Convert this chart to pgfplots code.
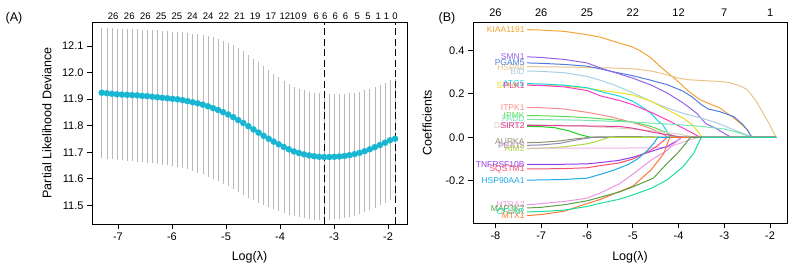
\documentclass[border=0pt]{standalone}
\usepackage{pgfplots}
\pgfplotsset{compat=1.18}
\usepackage{pgfplotstable}
\usepackage{fontspec}
\setmainfont{Liberation Sans}
\definecolor{dotc}{RGB}{24,182,210}
\definecolor{ebar}{RGB}{185,185,185}
\definecolor{cKIAA}{RGB}{242,165,50}
\definecolor{cSMN}{RGB}{150,100,230}
\definecolor{cPGAM}{RGB}{80,125,220}
\definecolor{cHSPA}{RGB}{233,196,138}
\definecolor{cBID}{RGB}{166,207,229}
\definecolor{cSPHK}{RGB}{235,220,40}
\definecolor{cATG}{RGB}{20,215,225}
\definecolor{cPLK}{RGB}{250,60,200}
\definecolor{cITPK}{RGB}{248,140,140}
\definecolor{cIPMK}{RGB}{90,220,90}
\definecolor{cFADD}{RGB}{120,230,180}
\definecolor{cDIRAS}{RGB}{215,210,190}
\definecolor{cSIRT}{RGB}{230,60,160}
\definecolor{cGRN}{RGB}{30,210,30}
\definecolor{cAURKA}{RGB}{150,145,110}
\definecolor{cPEA}{RGB}{140,140,170}
\definecolor{cLIME}{RGB}{170,220,60}
\definecolor{cLPINK}{RGB}{240,180,230}
\definecolor{cTNF}{RGB}{150,60,240}
\definecolor{cSQS}{RGB}{250,80,110}
\definecolor{cHSP}{RGB}{30,170,230}
\definecolor{cHTRA}{RGB}{235,150,225}
\definecolor{cMAP}{RGB}{90,160,70}
\definecolor{cCFLAR}{RGB}{30,220,160}
\definecolor{cMTX}{RGB}{255,120,50}

\pgfplotstableread{
x y e
-7.300 11.924 0.237
-7.206 11.922 0.238
-7.113 11.920 0.238
-7.019 11.918 0.239
-6.926 11.917 0.239
-6.832 11.916 0.240
-6.738 11.915 0.240
-6.645 11.914 0.241
-6.551 11.912 0.241
-6.458 11.911 0.242
-6.364 11.909 0.242
-6.270 11.907 0.243
-6.177 11.905 0.243
-6.083 11.903 0.244
-5.990 11.901 0.245
-5.896 11.899 0.246
-5.802 11.896 0.247
-5.709 11.892 0.248
-5.615 11.888 0.250
-5.522 11.884 0.252
-5.428 11.879 0.254
-5.334 11.873 0.256
-5.241 11.866 0.258
-5.147 11.859 0.260
-5.054 11.851 0.261
-4.960 11.842 0.262
-4.866 11.832 0.262
-4.773 11.821 0.262
-4.679 11.810 0.261
-4.586 11.798 0.260
-4.492 11.786 0.258
-4.398 11.774 0.256
-4.305 11.762 0.253
-4.211 11.751 0.250
-4.118 11.740 0.247
-4.024 11.730 0.244
-3.930 11.720 0.241
-3.837 11.711 0.238
-3.743 11.703 0.236
-3.650 11.697 0.234
-3.556 11.692 0.233
-3.462 11.688 0.232
-3.369 11.685 0.231
-3.275 11.683 0.230
-3.182 11.682 0.229
-3.088 11.682 0.228
-2.994 11.683 0.227
-2.901 11.684 0.226
-2.807 11.686 0.225
-2.714 11.689 0.224
-2.620 11.693 0.223
-2.526 11.698 0.222
-2.433 11.704 0.221
-2.339 11.711 0.220
-2.246 11.719 0.219
-2.152 11.727 0.218
-2.058 11.736 0.217
-1.965 11.745 0.217
-1.871 11.751 0.216
}\cvdata

\begin{document}
\begin{tikzpicture}
\useasboundingbox (0,0) rectangle (792pt,269pt);
\pgfplotsset{
  base/.style={scale only axis, axis line style={line width=0.9pt}, tick style={line width=0.8pt, black},
    tick align=outside, major tick length=5pt, xtick pos=bottom, ytick pos=left,
    ticklabel style={font=\fontsize{11}{12}\selectfont},
    label style={font=\fontsize{12.5}{14}\selectfont}},
  topax/.style={scale only axis, hide y axis, axis x line*=top, axis line style={draw=none},
    major tick length=0pt, ymin=0, ymax=1}
}
\node[font=\fontsize{12.5}{14}\selectfont] at (14pt,251pt) {(A)};
\node[font=\fontsize{12.5}{14}\selectfont] at (447pt,251pt) {(B)};

% ---------------- Panel A
\begin{axis}[base, at={(92pt,45pt)}, anchor=south west, width=315pt, height=202pt,
  xmin=-7.48, xmax=-1.65, ymin=11.43, ymax=12.19,
  xtick={-7,-6,-5,-4,-3,-2}, xticklabels={-7,-6,-5,-4,-3,-2},
  ytick={11.5,11.6,11.7,11.8,11.9,12.0,12.1}, yticklabels={11.5,11.6,11.7,11.8,11.9,12.0,12.1},
  xlabel={Log(λ)}, ylabel={Partial Likelihood Deviance},
  x label style={at={(axis description cs:0.5,-0.165)}, anchor=center},
  y label style={at={(axis description cs:-0.143,0.5)}, anchor=center}]
\addplot[only marks, mark=none, error bars/.cd, y dir=both, y explicit,
  error bar style={color=ebar, line width=0.6pt},
  error mark options={color=ebar, mark size=2.2pt, line width=0.6pt}]
  table[x=x, y=y, y error=e] {\cvdata};
\addplot[only marks, mark=*, mark size=3pt, color=dotc] table[x=x, y=y] {\cvdata};
\addplot[black, line width=1pt, dash pattern=on 7pt off 3.5pt] coordinates {(-3.182,11.43) (-3.182,12.19)};
\addplot[black, line width=1pt, dash pattern=on 7pt off 3.5pt] coordinates {(-1.871,11.43) (-1.871,12.19)};
\end{axis}
\begin{axis}[topax, at={(92pt,45pt)}, anchor=south west, width=315pt, height=202pt,
  xmin=-7.48, xmax=-1.65,
  xtick={-7.09,-6.79,-6.49,-6.20,-5.91,-5.62,-5.33,-5.04,-4.75,-4.46,-4.17,-3.91,-3.72,-3.55,-3.33,-3.17,-2.98,-2.79,-2.57,-2.37,-2.18,-2.03,-1.87},
  xticklabels={26,26,26,25,25,24,24,22,21,19,17,12,10,9,6,6,6,6,5,5,1,1,0},
  xticklabel style={font=\fontsize{9.5}{10}\selectfont, yshift=-1pt}]
\addplot[draw=none] coordinates {(-5,0.5)};
\end{axis}

% ---------------- Panel B
\begin{axis}[base, at={(473pt,46pt)}, anchor=south west, width=314pt, height=201pt,
  xmin=-8.49, xmax=-1.63, ymin=-0.394, ymax=0.530,
  xtick={-8,-7,-6,-5,-4,-3,-2}, xticklabels={-8,-7,-6,-5,-4,-3,-2},
  ytick={-0.2,0,0.2,0.4}, yticklabels={-0.2,0.0,0.2,0.4},
  xlabel={Log(λ)}, ylabel={Coefficients},
  x label style={at={(axis description cs:0.5,-0.17)}, anchor=center},
  y label style={at={(axis description cs:-0.146,0.5)}, anchor=center},
  every axis plot/.append style={line width=1pt}]
\addplot[cKIAA] coordinates {(-7.31,0.495) (-7,0.493) (-6.5,0.487) (-6,0.472) (-5.7,0.46) (-5.4,0.44) (-5.0,0.415) (-4.8,0.393) (-4.6,0.365) (-4.4,0.325) (-4.2,0.29) (-4.0,0.255) (-3.8,0.215) (-3.55,0.175) (-3.3,0.152) (-3.1,0.135) (-2.8,0.09) (-2.6,0.055) (-2.5,0.035) (-2.4,0) (-1.87,0)};
\addplot[cHSPA] coordinates {(-7.31,0.325) (-6.5,0.323) (-6,0.321) (-5.5,0.319) (-5,0.315) (-4.6,0.305) (-4.3,0.29) (-4.0,0.272) (-3.8,0.265) (-3.5,0.261) (-3.2,0.258) (-2.9,0.252) (-2.7,0.24) (-2.5,0.22) (-2.3,0.165) (-2.15,0.11) (-2.0,0.055) (-1.87,0)};
\addplot[cPGAM] coordinates {(-7.31,0.342) (-7,0.34) (-6.5,0.335) (-6,0.327) (-5.7,0.314) (-5.4,0.30) (-5.0,0.283) (-4.6,0.262) (-4.25,0.242) (-3.9,0.212) (-3.7,0.185) (-3.5,0.15) (-3.35,0.13) (-3.1,0.118) (-2.8,0.096) (-2.6,0.06) (-2.5,0.035) (-2.4,0) (-1.87,0)};
\addplot[cSMN] coordinates {(-7.31,0.37) (-7,0.367) (-6.5,0.358) (-6,0.342) (-5.7,0.318) (-5.4,0.298) (-5.0,0.272) (-4.6,0.24) (-4.25,0.204) (-3.9,0.158) (-3.6,0.11) (-3.4,0.062) (-3.2,0.043) (-3.0,0.018) (-2.85,0) (-1.87,0)};
\addplot[cBID] coordinates {(-7.31,0.305) (-7,0.303) (-6.5,0.297) (-6,0.28) (-5.7,0.262) (-5.4,0.24) (-5.0,0.205) (-4.6,0.165) (-4.25,0.135) (-3.9,0.11) (-3.5,0.088) (-3.16,0.066) (-2.8,0.035) (-2.5,0.01) (-2.4,0) (-1.87,0)};
\addplot[cSPHK] coordinates {(-7.31,0.24) (-7,0.239) (-6.5,0.235) (-6,0.226) (-5.7,0.216) (-5.3,0.205) (-5.0,0.195) (-4.6,0.166) (-4.25,0.127) (-3.9,0.089) (-3.7,0.058) (-3.55,0.02) (-3.49,0) (-1.87,0)};
\addplot[cATG] coordinates {(-7.31,0.247) (-7,0.245) (-6.5,0.24) (-6,0.228) (-5.7,0.21) (-5.3,0.19) (-5.0,0.166) (-4.8,0.14) (-4.6,0.11) (-4.45,0.075) (-4.35,0.06) (-4.18,0) (-1.87,0)};
\addplot[cPLK] coordinates {(-7.31,0.24) (-7,0.238) (-6.5,0.232) (-6,0.215) (-5.7,0.19) (-5.3,0.17) (-5.0,0.15) (-4.6,0.115) (-4.25,0.08) (-3.9,0.042) (-3.7,0.02) (-3.53,0) (-1.87,0)};
\addplot[cITPK] coordinates {(-7.31,0.137) (-7,0.136) (-6.5,0.13) (-6,0.115) (-5.5,0.095) (-5.0,0.068) (-4.6,0.04) (-4.4,0.02) (-4.22,0) (-1.87,0)};
\addplot[cIPMK] coordinates {(-7.31,0.1) (-7,0.099) (-6.5,0.096) (-6,0.09) (-5.5,0.082) (-5.0,0.07) (-4.6,0.05) (-4.3,0.025) (-4.05,0) (-1.87,0)};
\addplot[cFADD] coordinates {(-7.31,0.082) (-6.5,0.08) (-6,0.078) (-5.5,0.074) (-5,0.07) (-4.5,0.064) (-4,0.058) (-3.5,0.05) (-3.0,0.038) (-2.7,0.022) (-2.5,0.008) (-2.4,0) (-1.87,0)};
\addplot[cDIRAS] coordinates {(-7.31,0.058) (-7,0.057) (-6.5,0.055) (-6,0.05) (-5.5,0.045) (-5,0.038) (-4.5,0.028) (-4,0.015) (-3.6,0) (-1.87,0)};
\addplot[cGRN] coordinates {(-7.31,0.05) (-7,0.049) (-6.7,0.044) (-6.4,0.03) (-6.2,0.015) (-6.0,0.004) (-5.9,0) (-1.87,0)};
\addplot[cSIRT] coordinates {(-7.31,0.055) (-7,0.054) (-6.5,0.053) (-6,0.052) (-5.3,0.05) (-5,0.042) (-4.6,0.025) (-4.2,0.01) (-3.9,0) (-1.87,0)};
\addplot[cAURKA] coordinates {(-7.31,-0.025) (-7,-0.023) (-6.6,-0.017) (-6.3,-0.008) (-6.0,-0.002) (-5.8,0.002) (-5.0,0.003) (-4.6,0.002) (-4.4,0) (-1.87,0)};
\addplot[cPEA] coordinates {(-7.31,-0.037) (-7,-0.035) (-6.6,-0.028) (-6.3,-0.015) (-6.0,-0.004) (-5.85,0) (-1.87,0)};
\addplot[cLIME] coordinates {(-7.31,-0.053) (-7,-0.051) (-6.5,-0.044) (-6.0,-0.03) (-5.8,-0.02) (-5.6,-0.006) (-5.5,0) (-1.87,0)};
\addplot[cLPINK] coordinates {(-7.31,-0.05) (-6.5,-0.05) (-5.5,-0.05) (-5,-0.049) (-4.5,-0.048) (-4.25,-0.046) (-4.0,-0.03) (-3.8,-0.015) (-3.55,0) (-1.87,0)};
\addplot[cTNF] coordinates {(-7.31,-0.125) (-7,-0.125) (-6.5,-0.124) (-6,-0.122) (-5.7,-0.116) (-5.3,-0.106) (-5.0,-0.092) (-4.6,-0.065) (-4.25,-0.042) (-4.05,-0.018) (-3.93,0) (-1.87,0)};
\addplot[cSQS] coordinates {(-7.31,-0.145) (-7,-0.145) (-6.5,-0.144) (-6,-0.14) (-5.7,-0.13) (-5.3,-0.118) (-5.0,-0.1) (-4.7,-0.07) (-4.5,-0.045) (-4.35,-0.02) (-4.25,0) (-1.87,0)};
\addplot[cHSP] coordinates {(-7.31,-0.197) (-7,-0.196) (-6.5,-0.194) (-6,-0.188) (-5.7,-0.17) (-5.4,-0.15) (-5.1,-0.125) (-4.9,-0.1) (-4.7,-0.065) (-4.55,-0.03) (-4.45,0) (-1.87,0)};
\addplot[cHTRA] coordinates {(-7.31,-0.31) (-7,-0.305) (-6.5,-0.295) (-6,-0.28) (-5.7,-0.255) (-5.3,-0.215) (-5.0,-0.17) (-4.6,-0.105) (-4.25,-0.06) (-4.1,-0.03) (-3.95,0) (-1.87,0)};
\addplot[cMTX] coordinates {(-7.31,-0.36) (-7,-0.355) (-6.5,-0.34) (-6,-0.305) (-5.7,-0.285) (-5.3,-0.25) (-5.0,-0.225) (-4.6,-0.15) (-4.32,-0.074) (-4.22,-0.015) (-4.18,0) (-1.87,0)};
\addplot[cMAP] coordinates {(-7.31,-0.325) (-7,-0.322) (-6.5,-0.31) (-6,-0.292) (-5.7,-0.275) (-5.3,-0.252) (-5.0,-0.228) (-4.55,-0.188) (-4.25,-0.12) (-4.03,-0.075) (-3.85,-0.03) (-3.74,0) (-1.87,0)};
\addplot[cCFLAR] coordinates {(-7.31,-0.343) (-7,-0.341) (-6.5,-0.335) (-6,-0.318) (-5.7,-0.303) (-5.3,-0.285) (-5.0,-0.265) (-4.6,-0.235) (-4.25,-0.196) (-3.9,-0.135) (-3.67,-0.074) (-3.53,-0.012) (-3.49,0) (-1.87,0)};
\begin{scope}[every node/.style={anchor=east, inner sep=0pt, font=\fontsize{8.5}{9}\selectfont}]
\node[text=cKIAA] at (axis cs:-7.36,0.495) {KIAA1191};
\node[text=cHSPA] at (axis cs:-7.36,0.322) {HSPA8};
\node[text=cSMN] at (axis cs:-7.36,0.370) {SMN1};
\node[text=cPGAM] at (axis cs:-7.36,0.343) {PGAM5};
\node[text=cBID] at (axis cs:-7.36,0.303) {BID};
\node[text=cSPHK] at (axis cs:-7.36,0.236) {SPHK1};
\node[text=cATG] at (axis cs:-7.36,0.247) {ATG5};
\node[text=cPLK] at (axis cs:-7.36,0.238) {PLK1};
\node[text=cITPK] at (axis cs:-7.36,0.137) {ITPK1};
\node[text=cIPMK] at (axis cs:-7.36,0.100) {IPMK};
\node[text=cFADD] at (axis cs:-7.36,0.084) {FADD};
\node[text=cDIRAS] at (axis cs:-7.36,0.052) {DIRAS3};
\node[text=cSIRT] at (axis cs:-7.36,0.055) {SIRT2};
\node[text=cAURKA] at (axis cs:-7.36,-0.022) {AURKA};
\node[text=cPEA] at (axis cs:-7.36,-0.036) {PEA15};
\node[text=cLPINK] at (axis cs:-7.36,-0.038) {NRG2};
\node[text=cLIME] at (axis cs:-7.36,-0.052) {AIM2};
\node[text=cTNF] at (axis cs:-7.36,-0.125) {TNFRSF10B};
\node[text=cSQS] at (axis cs:-7.36,-0.145) {SQSTM1};
\node[text=cHSP] at (axis cs:-7.36,-0.197) {HSP90AA1};
\node[text=cHTRA] at (axis cs:-7.36,-0.310) {HTRA2};
\node[text=cMAP] at (axis cs:-7.36,-0.326) {MAP3K7};
\node[text=cCFLAR] at (axis cs:-7.36,-0.343) {CFLAR};
\node[text=cMTX] at (axis cs:-7.36,-0.360) {MTX1};
\end{scope}
\end{axis}
\begin{axis}[topax, at={(473pt,46pt)}, anchor=south west, width=314pt, height=201pt,
  xmin=-8.49, xmax=-1.63,
  xtick={-8,-7,-6,-5,-4,-3,-2}, xticklabels={26,26,25,22,12,7,1},
  xticklabel style={font=\fontsize{11}{12}\selectfont, yshift=2pt}]
\addplot[draw=none] coordinates {(-5,0.5)};
\end{axis}
\end{tikzpicture}
\end{document}
